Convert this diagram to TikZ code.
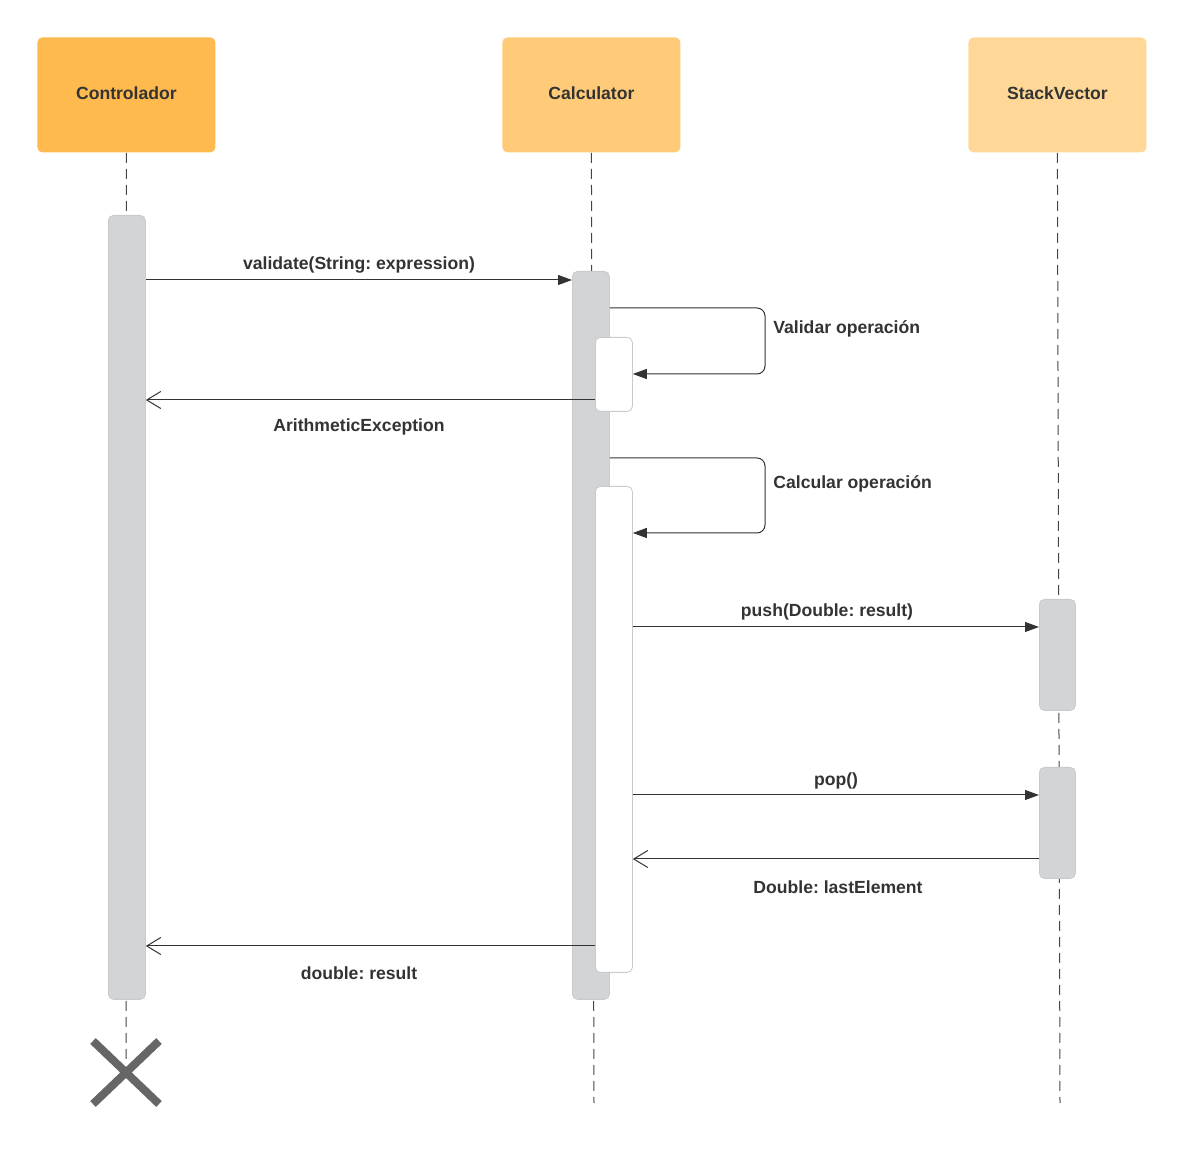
\documentclass[tikz,border=0pt]{standalone}
\usepackage{fontspec}
\setmainfont{Liberation Sans}
\usetikzlibrary{arrows.meta}
\frenchspacing
\definecolor{txt}{HTML}{333333}
\definecolor{hdrA}{HTML}{FFBA4F}
\definecolor{hdrB}{HTML}{FFCB78}
\definecolor{hdrC}{HTML}{FFD898}
\definecolor{actfill}{HTML}{D3D4D6}
\definecolor{actline}{HTML}{C9CACC}
\definecolor{lifec}{HTML}{444444}
\definecolor{xcol}{HTML}{666666}
\tikzset{
  lbl/.style={font=\fontsize{8.8pt}{10pt}\selectfont\bfseries\frenchspacing, text=txt, inner sep=0pt},
  hdr/.style={lbl, anchor=north west, minimum width=89pt, minimum height=57.5pt, rounded corners=2.5pt, inner sep=0pt},
  actbox/.style={anchor=north west, fill=actfill, draw=actline, line width=0.4pt, rounded corners=2.5pt, minimum width=18.5pt, inner sep=0pt},
  subbox/.style={anchor=north west, fill=white, draw=actline, line width=0.4pt, rounded corners=2.5pt, minimum width=18.5pt, inner sep=0pt},
  lifeline/.style={draw=lifec, line width=0.5pt, dash pattern=on 5pt off 3pt},
  msg/.style={draw=txt, line width=0.5pt, -{Triangle[length=7pt,width=5pt]}},
  ret/.style={draw=txt, line width=0.5pt, -{Straight Barb[length=7pt,width=8.5pt,line width=0.5pt]}},
}
\begin{document}
\begin{tikzpicture}[x=0.5pt,y=-0.5pt]
\useasboundingbox (0,0) rectangle (1185,1149);
% headers
\node[hdr, fill=hdrA] (ctrl) at (37,37) {\raisebox{1.5pt}{Controlador}};
\node[hdr, fill=hdrB] (calc) at (502,37) {\raisebox{1.5pt}{Calculator}};
\node[hdr, fill=hdrC] (stack) at (968,37) {\raisebox{1.5pt}{StackVector}};
% lifelines
\coordinate (ctrlend) at (126,1060);
\coordinate (calcend) at (594,1103);
\coordinate (stackend) at (1060,1103);
\draw[lifeline] (ctrl.south) -- (ctrlend);
\draw[lifeline] (calc.south) -- (calcend);
\draw[lifeline] (stack.south) -- (stackend);
% activations
\node[actbox, minimum height=392pt] (ctrlact) at (108,215) {};
\node[actbox, minimum height=364pt] (calcact) at (572,271) {};
\node[subbox, minimum height=37pt] (sub1) at (595,337) {};
\node[subbox, minimum height=243pt] (sub2) at (595,486) {};
\node[actbox, minimum width=18pt, minimum height=55.5pt] (sv1) at (1039,599) {};
\node[actbox, minimum width=18pt, minimum height=55.5pt] (sv2) at (1039,767) {};
% messages
\draw[msg] (ctrlact.east |- 0,280) -- (calcact.west |- 0,280);
\node[lbl] (m1) at (359,265) {validate(String: expression)};
\draw[msg, rounded corners=4pt] (calcact.east |- 0,308) -- (765,308) -- (765,374) -- (sub1.east |- 0,374);
\node[lbl, anchor=west] (m2) at (773,329) {Validar operación};
\draw[ret] (sub1.west |- 0,400) -- (ctrlact.east |- 0,400);
\node[lbl] (m3) at (359,427) {ArithmeticException};
\draw[msg, rounded corners=4pt] (calcact.east |- 0,458) -- (765,458) -- (765,533) -- (sub2.east |- 0,533);
\node[lbl, anchor=west] (m4) at (773,484) {Calcular operación};
\draw[msg] (sub2.east |- 0,627) -- (sv1.west |- 0,627);
\node[lbl] (m5) at (827,612) {push(Double: result)};
\draw[msg] (sub2.east |- 0,795) -- (sv2.west |- 0,795);
\node[lbl] (m6) at (836,781) {pop()};
\draw[ret] (sv2.west |- 0,859) -- (sub2.east |- 0,859);
\node[lbl] (m7) at (838,887) {Double: lastElement};
\draw[ret] (sub2.west |- 0,946) -- (ctrlact.east |- 0,946);
\node[lbl] (m8) at (359,973) {double: result};
% destruction
\coordinate (xa) at (93,1041);
\coordinate (xb) at (159,1104);
\coordinate (xc) at (159,1041);
\coordinate (xd) at (93,1104);
\draw[xcol, line width=4pt] (xa) -- (xb) (xc) -- (xd);
\end{tikzpicture}
\end{document}
